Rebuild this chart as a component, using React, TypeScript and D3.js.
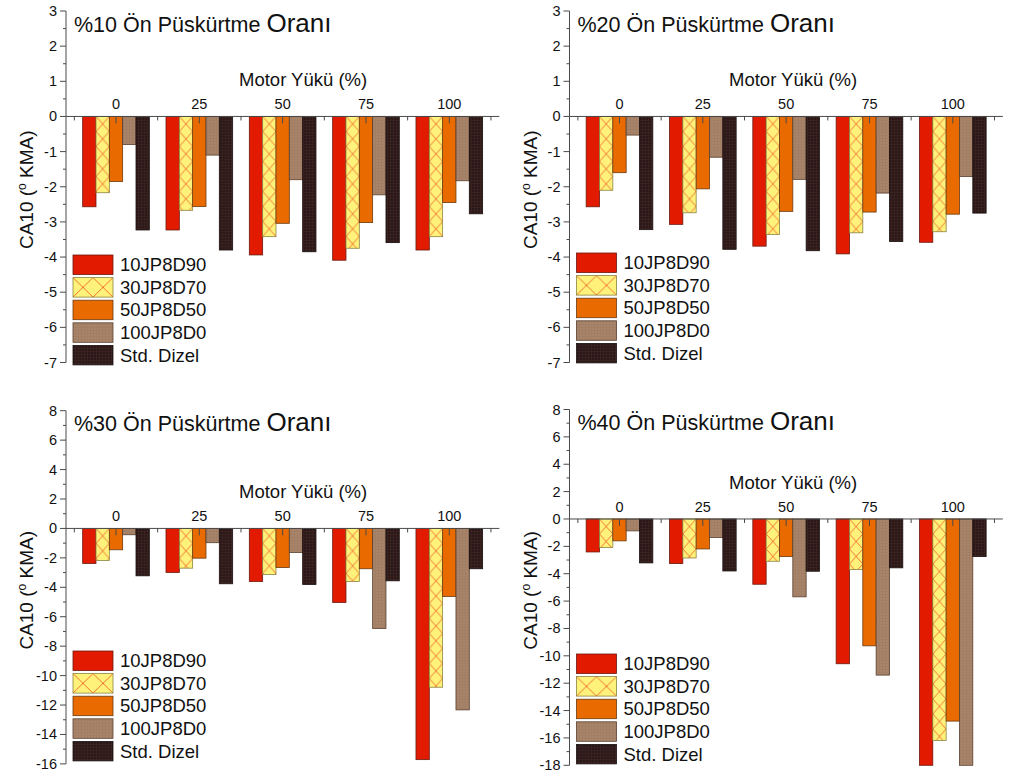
import React from "react";
import * as d3 from "d3";

// ---------- data ----------
const categories = ["0", "25", "50", "75", "100"];
const seriesNames = ["10JP8D90", "30JP8D70", "50JP8D50", "100JP8D0", "Std. Dizel"];
const ratioLabels = ["%10", "%20", "%30", "%40"];

// values per series (rows) for each engine load (columns)
const ratio10Values = [
  [-2.57, -3.23, -3.94, -4.09, -3.8],
  [-2.17, -2.67, -3.42, -3.75, -3.42],
  [-1.85, -2.56, -3.04, -3.02, -2.45],
  [-0.8, -1.1, -1.8, -2.23, -1.83],
  [-3.23, -3.8, -3.85, -3.59, -2.77],
];
const ratio20Values = [
  [-2.57, -3.07, -3.69, -3.91, -3.58],
  [-2.1, -2.74, -3.36, -3.31, -3.28],
  [-1.6, -2.06, -2.7, -2.72, -2.78],
  [-0.53, -1.16, -1.79, -2.18, -1.71],
  [-3.22, -3.78, -3.82, -3.56, -2.75],
];
const ratio30Values = [
  [-2.38, -2.99, -3.6, -5.03, -15.71],
  [-2.18, -2.7, -3.13, -3.6, -10.79],
  [-1.45, -2.02, -2.65, -2.74, -4.62],
  [-0.43, -0.97, -1.63, -6.8, -12.33],
  [-3.22, -3.76, -3.81, -3.56, -2.74],
];
const ratio40Values = [
  [-2.41, -3.26, -4.77, -10.58, -18],
  [-2.09, -2.85, -3.09, -3.7, -16.18],
  [-1.6, -2.19, -2.75, -9.27, -14.77],
  [-0.87, -1.36, -5.69, -11.41, -18],
  [-3.21, -3.8, -3.82, -3.57, -2.75],
];

const yTicksTop = [3, 2, 1, 0, -1, -2, -3, -4, -5, -6, -7];
const yTicks30 = [8, 6, 4, 2, 0, -2, -4, -6, -8, -10, -12, -14, -16];
const yTicks40 = [8, 6, 4, 2, 0, -2, -4, -6, -8, -10, -12, -14, -16, -18];

// ---------- layout / style ----------
const FONT = "'Liberation Sans', Arial, Helvetica, sans-serif";
const AXIS = "#4a4a4a";

const panels = [
  { label: ratioLabels[0], values: ratio10Values, ticks: yTicksTop, axisX: 66, yTop: 11, yBottom: 362.5, motorX: 239, legendY: 255 },
  { label: ratioLabels[1], values: ratio20Values, ticks: yTicksTop, axisX: 569.5, yTop: 11, yBottom: 362.5, motorX: 729, legendY: 253 },
  { label: ratioLabels[2], values: ratio30Values, ticks: yTicks30, axisX: 66, yTop: 410.7, yBottom: 763.9, motorX: 239, legendY: 651 },
  { label: ratioLabels[3], values: ratio40Values, ticks: yTicks40, axisX: 569.5, yTop: 409.5, yBottom: 765.3, motorX: 729, legendY: 654 },
];

const fills = ["#e21a00", "url(#HATCH)", "#e96b00", "url(#brownTex)", "url(#blackTex)"];
const strokes = ["#6a1a10", "#8a8440", "#6a3a10", "#5a4030", "#1a1010"];

function Panel({ cfg, pi }: { cfg: any; pi: number }) {
  const tmin = d3.min(cfg.ticks as number[])!;
  const tmax = d3.max(cfg.ticks as number[])!;
  const y = d3.scaleLinear().domain([tmin, tmax]).range([cfg.yBottom, cfg.yTop]);
  const x = d3.scaleLinear().domain([-0.6, categories.length - 0.4]).range([cfg.axisX, cfg.axisX + 433.3]);
  const inner = d3.scaleBand<string>().domain(seriesNames).range([-0.4, 0.4]);
  const bw = x(inner.bandwidth()) - x(0);
  const step = cfg.ticks[0] - cfg.ticks[1];
  const minor = d3.range(tmin + step / 2, tmax, step);
  const y0 = y(0);
  const hatchH = 15;

  const bars: any[] = [];
  const defs: any[] = [];
  seriesNames.forEach((s, si) => {
    categories.forEach((c, ci) => {
      const v = cfg.values[si][ci];
      const bx = x(ci + inner(s)!);
      const top = Math.min(y(0), y(v));
      const h = Math.abs(y(v) - y(0));
      let fill = fills[si];
      if (si === 1) {
        const id = `hatch-${pi}-${ci}`;
        defs.push(
          <pattern key={id} id={id} patternUnits="userSpaceOnUse" x={bx} y={y0} width={bw} height={hatchH}>
            <rect width={bw} height={hatchH} fill="#fff27a" />
            <path d={`M0,0L${bw},${hatchH}M${bw},0L0,${hatchH}`} stroke="#f0652a" strokeWidth={0.9} fill="none" />
          </pattern>
        );
        fill = `url(#${id})`;
      }
      bars.push(
        <rect key={`${si}-${ci}`} x={bx} y={top} width={bw} height={h} fill={fill} stroke={strokes[si]} strokeWidth={0.8} />
      );
    });
  });

  const swW = 40, swH = 19.5, swGap = 22.6;
  const lx = cfg.axisX + 7;
  defs.push(
    <pattern key="lh" id={`lhatch-${pi}`} patternUnits="userSpaceOnUse" x={lx} y={cfg.legendY + swGap} width={20} height={swH}>
      <rect width={20} height={swH} fill="#fff27a" />
      <path d={`M0,0L20,${swH}M20,0L0,${swH}`} stroke="#f0652a" strokeWidth={0.9} fill="none" />
    </pattern>
  );

  return (
    <g>
      <defs>{defs}</defs>
      {bars}
      {/* zero axis */}
      <line x1={cfg.axisX} x2={x(categories.length - 0.4)} y1={y0} y2={y0} stroke={AXIS} strokeWidth={1} />
      {categories.map((c, ci) => (
        <g key={c}>
          <line x1={x(ci)} x2={x(ci)} y1={y0} y2={y0 + 7} stroke={AXIS} strokeWidth={1} />
          <text x={x(ci)} y={y0 - 7} textAnchor="middle" fontSize={14.5} fontFamily={FONT} fill="#111">{c}</text>
        </g>
      ))}
      {d3.range(-0.5, categories.length, 1).map((t) => (
        <line key={t} x1={x(t)} x2={x(t)} y1={y0} y2={y0 + 4} stroke={AXIS} strokeWidth={1} />
      ))}
      <text x={cfg.motorX} y={y0 - 30} fontSize={18.5} fontFamily={FONT} fill="#111">Motor Yükü (%)</text>
      {/* y axis */}
      <line x1={cfg.axisX} x2={cfg.axisX} y1={y(tmax)} y2={y(tmin)} stroke={AXIS} strokeWidth={1} />
      {cfg.ticks.map((t: number) => (
        <g key={t}>
          <line x1={cfg.axisX - 6} x2={cfg.axisX} y1={y(t)} y2={y(t)} stroke={AXIS} strokeWidth={1} />
          <text x={cfg.axisX - 9} y={y(t) + 5} textAnchor="end" fontSize={14.5} fontFamily={FONT} fill="#111">{t}</text>
        </g>
      ))}
      {minor.map((t: number) => (
        <line key={t} x1={cfg.axisX - 3} x2={cfg.axisX} y1={y(t)} y2={y(t)} stroke={AXIS} strokeWidth={1} />
      ))}
      <text
        transform={`translate(${cfg.axisX - 33},${(cfg.yTop + cfg.yBottom) / 2 + 3}) rotate(-90)`}
        textAnchor="middle" fontSize={19} fontFamily={FONT} fill="#111"
      >
        CA10 (<tspan fontSize={12} dy={-7}>o</tspan><tspan dy={7}> KMA)</tspan>
      </text>
      {/* title */}
      <text x={cfg.axisX + 8} y={cfg.yTop + 20.5} fontFamily={FONT} fill="#111">
        <tspan fontSize={21.5}>{cfg.label} Ön Püskürtme </tspan>
        <tspan fontSize={26}>Oranı</tspan>
      </text>
      {/* legend */}
      {seriesNames.map((s, si) => {
        const ty = cfg.legendY + si * swGap;
        return (
          <g key={s}>
            <rect x={lx} y={ty} width={swW} height={swH}
              fill={si === 1 ? `url(#lhatch-${pi})` : fills[si]} stroke={strokes[si]} strokeWidth={0.8} />
            <text x={cfg.axisX + 54} y={ty + swH / 2 + 6.5} fontSize={18.5} fontFamily={FONT} fill="#111">{s}</text>
          </g>
        );
      })}
    </g>
  );
}

export default function App() {
  return (
    <svg width={1022} height={775} style={{ position: "absolute", left: 0, top: 0, background: "#fff" }}>
      <defs>
        <pattern id="brownTex" patternUnits="userSpaceOnUse" width={3} height={3}>
          <rect width={3} height={3} fill="#a8856a" />
          <path d="M0,0.5H3M0.5,0V3" stroke="#9a785d" strokeWidth={1} opacity={0.5} />
        </pattern>
        <pattern id="blackTex" patternUnits="userSpaceOnUse" width={3} height={3}>
          <rect width={3} height={3} fill="#2a1818" />
          <path d="M0,0.5H3M0.5,0V3" stroke="#3e2422" strokeWidth={1} opacity={0.7} />
        </pattern>
      </defs>
      <rect width={1022} height={775} fill="#fff" />
      {panels.map((p, i) => (
        <Panel key={i} cfg={p} pi={i} />
      ))}
    </svg>
  );
}
